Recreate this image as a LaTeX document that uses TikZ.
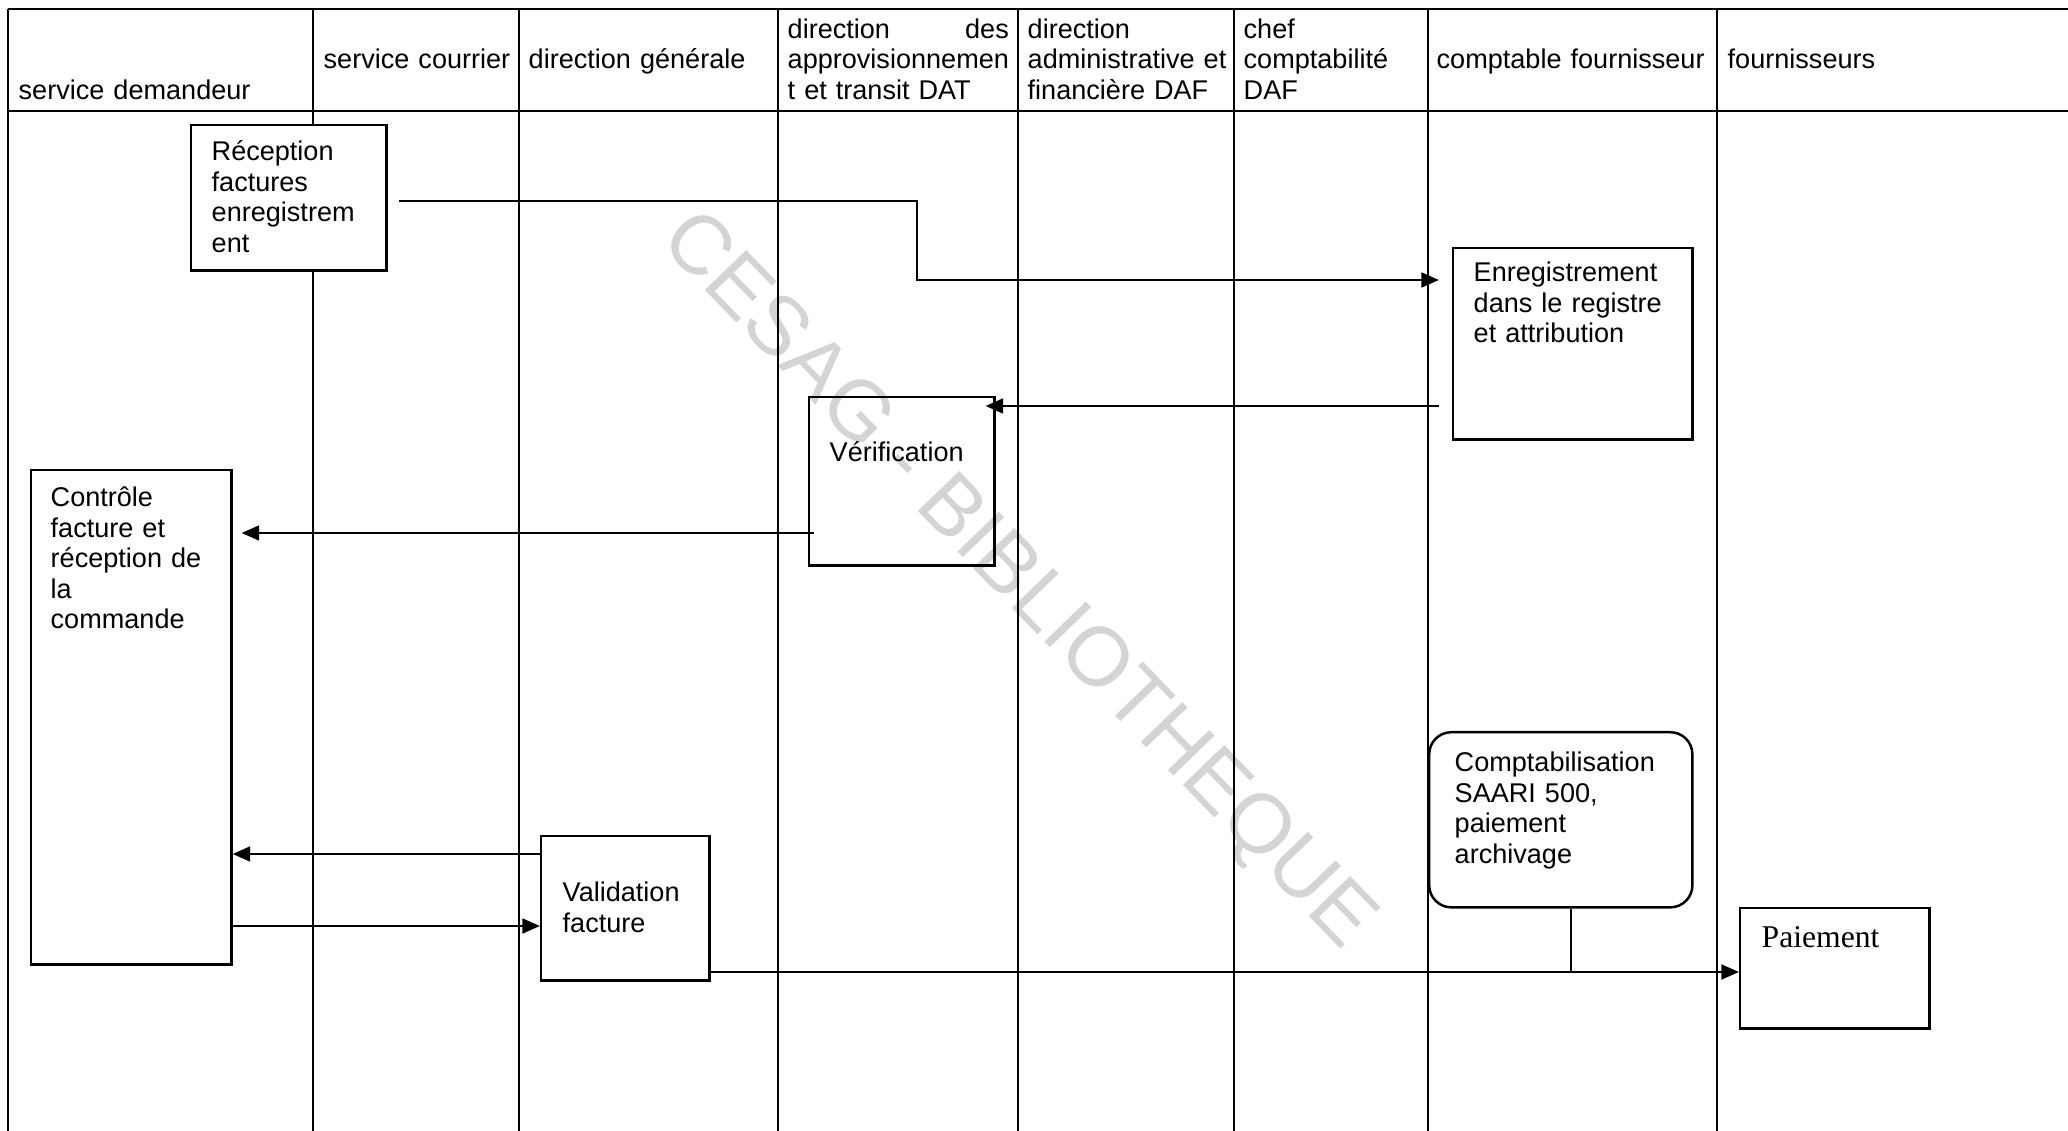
\documentclass[tikz,border=0pt]{standalone}
\usepackage{fontspec}
\setmainfont{Liberation Sans}
\newfontfamily\timesfont{Liberation Serif}
\usetikzlibrary{arrows.meta}
\begin{document}
\begin{tikzpicture}[x=0.01cm,y=-0.01cm,
  lane/.style={line width=0.45pt},
  rule/.style={line width=0.65pt},
  stepbox/.style={draw,fill=white,line width=0.7pt,inner sep=0pt,anchor=north west},
  txt/.style={anchor=base west,inner sep=0pt,align=left,text width=3cm,
    font=\fontsize{7.7}{8.65}\selectfont},
  flow/.style={line width=0.7pt,-{Triangle[length=5pt,width=4.2pt]}},
  link/.style={line width=0.7pt},
]
% page
\useasboundingbox[fill=white] (0,0) rectangle (2068,1131);

% swimlane grid
\draw[rule] (8,9) -- (2068,9);
\draw[rule] (8,111) -- (2068,111);
\foreach \lx in {8,313,519,778,1018,1234,1428,1717}
  \draw[lane] (\lx,9) -- (\lx,1131);

% lane titles
\node[txt] (h1) at (18,100) {service demandeur};
\node[txt] (h2) at (323,69) {service courrier};
\node[txt] (h3) at (528,69) {direction générale};
\node[txt] (h4) at (787,38.5) {\makebox[2.21cm][l]{direction\hfill des}\\approvisionnemen\\t et transit DAT};
\node[txt] (h5) at (1027,38.5) {direction\\administrative et\\financière DAF};
\node[txt] (h6) at (1243,38.5) {chef\\comptabilité\\DAF};
\node[txt] (h7) at (1436,69) {comptable fournisseur};
\node[txt] (h8) at (1727,69) {fournisseurs};

% process steps
\node[stepbox,minimum width=1.95cm,minimum height=1.45cm] (recep) at (190,124) {};
\node[txt] (recept) at (211,161) {Réception\\factures\\enregistrem\\ent};

\node[stepbox,minimum width=2.39cm,minimum height=1.91cm] (enreg) at (1452,247) {};
\node[txt] (enregt) at (1473,282) {Enregistrement\\dans le registre\\et attribution};

\node[stepbox,minimum width=1.85cm,minimum height=1.68cm] (verif) at (808,396) {};
\node[txt] (veriftxt) at (829,462) {Vérification};

\node[stepbox,minimum width=2.00cm,minimum height=4.94cm] (ctrl) at (30,469) {};
\node[txt] (ctrlt) at (50,507) {Contrôle\\facture et\\réception de\\la\\commande};

\node[stepbox,minimum width=1.68cm,minimum height=1.44cm] (valid) at (540,835) {};
\node[txt] (validt) at (562,902) {Validation\\facture};

\node[stepbox,rounded corners=0.22cm,minimum width=2.63cm,minimum height=1.75cm] (compta) at (1428,731) {};
\node[txt] (comptat) at (1454,772) {Comptabilisation\\SAARI 500,\\paiement\\archivage};

\node[stepbox,minimum width=1.89cm,minimum height=1.20cm] (pay) at (1739,907) {};
\node[anchor=base west,inner sep=0pt,font=\timesfont\fontsize{9}{11}\selectfont] (payt) at (1761,948) {Paiement};

% flows
\coordinate (b1) at (917,201);
\coordinate (b2) at (917,280);
\draw[flow,shorten <=0.11cm,shorten >=0.13cm] (recep.east |- b1) -- (b1) -- (b2) -- (enreg.west |- b2);
\draw[flow,shorten <=0.13cm,shorten >=-0.10cm] (enreg.west |- 0,406) -- (verif.east |- 0,406);
\draw[flow,shorten <=-0.06cm,shorten >=0.09cm] (verif.west |- 0,533) -- (ctrl.east |- 0,533);
\draw[flow] (valid.west |- 0,854) -- (ctrl.east |- 0,854);
\draw[flow] (ctrl.east |- 0,926) -- (valid.west |- 0,926);
\coordinate (join) at (1571,972);
\draw[flow] (valid.east |- join) -- (pay.west |- join);
\draw[link] (compta.south -| join) -- (join);

% watermark, laid lightly over everything
\node[rotate=-46,text=black,text opacity=0.17,font=\fontsize{23.8}{28}\selectfont,inner sep=0pt]
  (wm) at (1016,582) {CESAG - BIBLIOTHEQUE};
\end{tikzpicture}
\end{document}
